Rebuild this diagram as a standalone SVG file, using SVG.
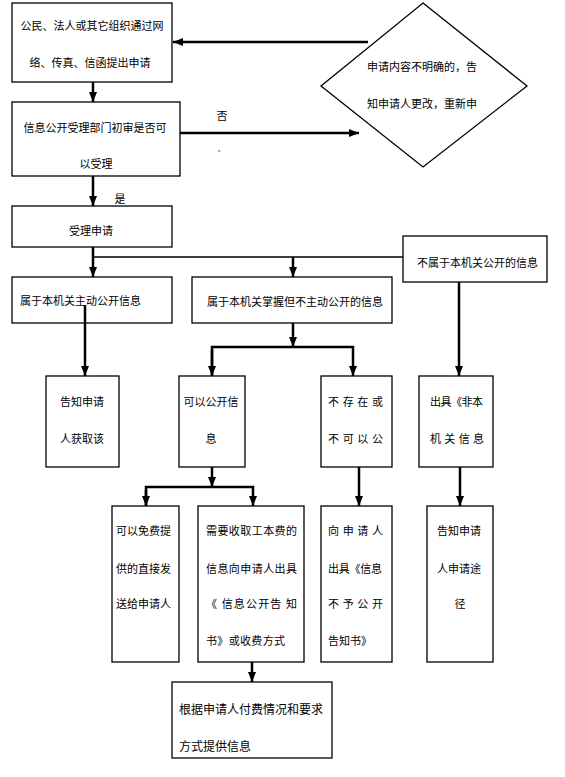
<svg xmlns="http://www.w3.org/2000/svg" width="565" height="777" viewBox="0 0 565 777">
<style>
.box{fill:#fff;stroke:#000;stroke-width:1.3}
.t{font-family:"Noto Sans CJK SC","Noto Sans CJK JP",sans-serif;font-size:11px;fill:#000;dominant-baseline:central}
.m{text-anchor:middle}
.c{fill:none;stroke:#000;stroke-width:2.5}
.thin{fill:none;stroke:#000;stroke-width:1.3}
</style>
<defs>
<marker id="ah" markerUnits="userSpaceOnUse" markerWidth="10" markerHeight="10" viewBox="0 0 10 10" refX="10" refY="5" orient="auto">
<path d="M0,1 L10,5 L0,9 Z" fill="#000"/>
</marker>
</defs>
<rect width="565" height="777" fill="#fff"/>

<g id="n1">
<rect class="box" x="12" y="3" width="160" height="79"/>
<text class="t m" x="92" y="25">公民、法人或其它组织通过网</text>
<text class="t m" x="90" y="62">络、传真、信函提出申请</text>
</g>

<g id="n2">
<path class="box" d="M423,3 L527,86 L423,167 L321,86 Z"/>
<text class="t" x="367" y="66">申请内容不明确的，告</text>
<text class="t" x="367" y="103">知申请人更改，重新申</text>
</g>

<g id="n3">
<rect class="box" x="12" y="102" width="168" height="74"/>
<text class="t m" x="95" y="127">信息公开受理部门初审是否可</text>
<text class="t m" x="96" y="163">以受理</text>
</g>

<g id="n4">
<rect class="box" x="12" y="206" width="160" height="41"/>
<text class="t m" x="91" y="230">受理申请</text>
</g>

<g id="n5">
<rect class="box" x="403" y="236" width="144" height="46"/>
<text class="t" x="417" y="262">不属于本机关公开的信息</text>
</g>

<g id="n6">
<rect class="box" x="12" y="277" width="160" height="46"/>
<text class="t" x="20" y="300">属于本机关主动公开信息</text>
</g>

<g id="n7">
<rect class="box" x="192" y="277" width="200" height="46"/>
<text class="t" x="207" y="301">属于本机关掌握但不主动公开的信息</text>
</g>

<g id="n8">
<rect class="box" x="46" y="376" width="73" height="91"/>
<text class="t m" x="82" y="401">告知申请</text>
<text class="t m" x="82" y="438">人获取该</text>
</g>

<g id="n9">
<rect class="box" x="179" y="376" width="66" height="91"/>
<text class="t m" x="211" y="401">可以公开信</text>
<text class="t m" x="211" y="438">息</text>
</g>

<g id="n10">
<rect class="box" x="321" y="376" width="71" height="91"/>
<text class="t" x="328" y="401" textLength="55" lengthAdjust="spacing">不存在或</text>
<text class="t" x="328" y="438" textLength="55" lengthAdjust="spacing">不可以公</text>
</g>

<g id="n11">
<rect class="box" x="419" y="376" width="74" height="91"/>
<text class="t" x="430" y="401" textLength="53" lengthAdjust="spacing">出具《非本</text>
<text class="t" x="430" y="438" textLength="54" lengthAdjust="spacing">机关信息</text>
</g>

<g id="n12">
<rect class="box" x="112" y="506" width="67" height="156"/>
<text class="t" x="116" y="530">可以免费提</text>
<text class="t" x="116" y="568">供的直接发</text>
<text class="t" x="116" y="603">送给申请人</text>
</g>

<g id="n13">
<rect class="box" x="198" y="506" width="106" height="156"/>
<text class="t" x="206" y="530" textLength="91" lengthAdjust="spacing">需要收取工本费的</text>
<text class="t" x="206" y="568" textLength="91" lengthAdjust="spacing">信息向申请人出具</text>
<text class="t" x="206" y="603" textLength="91" lengthAdjust="spacing">《 信息公开告 知</text>
<text class="t" x="206" y="640" textLength="79" lengthAdjust="spacing">书》或收费方式</text>
</g>

<g id="n14">
<rect class="box" x="321" y="506" width="71" height="156"/>
<text class="t" x="328" y="530" textLength="55" lengthAdjust="spacing">向申请人</text>
<text class="t" x="328" y="568" textLength="54" lengthAdjust="spacing">出具《信息</text>
<text class="t" x="328" y="603" textLength="55" lengthAdjust="spacing">不予公开</text>
<text class="t" x="328" y="640">告知书》</text>
</g>

<g id="n15">
<rect class="box" x="427" y="506" width="66" height="156"/>
<text class="t m" x="459" y="530">告知申请</text>
<text class="t m" x="459" y="568">人申请途</text>
<text class="t m" x="460" y="603">径</text>
</g>

<g id="n16">
<rect class="box" x="172" y="682" width="160" height="76"/>
<text class="t" x="179" y="708" style="font-size:12px">根据申请人付费情况和要求</text>
<text class="t" x="179" y="745" style="font-size:12px">方式提供信息</text>
</g>

<g id="connectors">
<line class="c" x1="368" y1="42" x2="173" y2="42" marker-end="url(#ah)"/>
<line class="c" x1="93" y1="82" x2="93" y2="102" marker-end="url(#ah)"/>
<line class="c" x1="180" y1="133" x2="359" y2="133" marker-end="url(#ah)"/>
<line class="c" x1="93" y1="176" x2="93" y2="206" marker-end="url(#ah)"/>
<line class="c" x1="93" y1="247" x2="93" y2="277" marker-end="url(#ah)"/>
<line class="thin" x1="93" y1="257" x2="403" y2="257"/>
<line class="c" x1="293" y1="257" x2="293" y2="277" marker-end="url(#ah)"/>
<line class="c" x1="85" y1="305" x2="85" y2="376" marker-end="url(#ah)"/>
<line class="c" x1="293" y1="323" x2="293" y2="347" marker-end="url(#ah)"/>
<polyline class="c" points="212,376 212,347 353,347 353,376" marker-end="url(#ah)"/>
<line class="c" x1="212" y1="350" x2="212" y2="376" marker-end="url(#ah)"/>
<line class="c" x1="459" y1="282" x2="459" y2="376" marker-end="url(#ah)"/>
<line class="c" x1="212" y1="467" x2="212" y2="487" marker-end="url(#ah)"/>
<polyline class="c" points="146,506 146,487 253,487 253,506" marker-end="url(#ah)"/>
<line class="c" x1="146" y1="490" x2="146" y2="506" marker-end="url(#ah)"/>
<line class="c" x1="359" y1="467" x2="359" y2="506" marker-end="url(#ah)"/>
<line class="c" x1="460" y1="467" x2="460" y2="506" marker-end="url(#ah)"/>
<line class="c" x1="252" y1="662" x2="252" y2="682" marker-end="url(#ah)"/>
</g>

<g id="labels">
<text class="t m" x="222" y="115">否</text>
<text class="t m" x="221" y="148" style="font-size:6px">。</text>
<text class="t m" x="120" y="198">是</text>
</g>
</svg>
